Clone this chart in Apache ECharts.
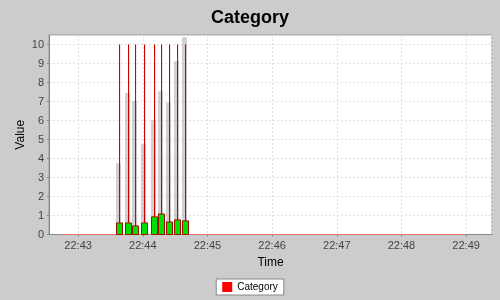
<!DOCTYPE html>
<html><head><meta charset="utf-8">
<script src="https://cdn.jsdelivr.net/npm/echarts@6/dist/echarts.min.js"></script>
<style>html,body{margin:0;padding:0;background:#cccccc;}#c{width:500px;height:300px;}</style>
</head><body><div id="c"></div>
<script>
const day = '2020-01-01T';
const times = ['22:43:38','22:43:46','22:43:53','22:44:01','22:44:10','22:44:17','22:44:24','22:44:32','22:44:39'];
const opens = [0,0,0,0,0,0,0,0,0];
const closes = [0.61,0.61,0.45,0.61,0.93,1.08,0.66,0.77,0.72];
const lows = [0,0,0,0,0,0,0,0,0];
const highs = [10,10,10,10,10,10,10,10,10];
const volumes = [3.75,7.45,7.03,4.75,6.02,7.54,6.95,9.13,10.38];
const zeroStart = '22:42:44', zeroEnd = '22:48:58';
const xMin = '22:42:33', xMax = '22:49:24';
const yMin = 0, yMax = 10.5;

const ms = s => Date.parse(day + s + 'Z');
const data = times.map((t,i) => [ms(t), opens[i], closes[i], lows[i], highs[i], volumes[i]]);

const chart = echarts.init(document.getElementById('c'), null, {renderer:'canvas'});
const fontFam = '"Liberation Sans", Arial, sans-serif';
chart.setOption({
  useUTC: true,
  backgroundColor: '#cccccc',
  animation: false,
  title: {text:'Category', left:'center', top:4, textStyle:{fontFamily:fontFam, fontSize:18, fontWeight:'bold', color:'#000'}},
  legend: {data:['Category'], top:279, left:'center', icon:'rect', itemWidth:10, itemHeight:10, itemGap:4,
    backgroundColor:'#fff', borderColor:'#888', borderWidth:1, padding:[3,6,3,6], borderRadius:0,
    textStyle:{fontFamily:fontFam, fontSize:10, color:'#000'}},
  grid: {left:49, right:8, top:35, bottom:65.5, show:true, backgroundColor:'#fff', borderColor:'#999', borderWidth:1},
  xAxis: {type:'time', min:ms(xMin), max:ms(xMax), minInterval:60000, maxInterval:60000,
    name:'Time', nameLocation:'middle', nameGap:22, nameMoveOverlap:false, nameTextStyle:{fontFamily:fontFam, fontSize:12, color:'#000'},
    axisLine:{lineStyle:{color:'#888'}}, axisTick:{show:true, length:2, lineStyle:{color:'#888'}},
    axisLabel:{fontFamily:fontFam, fontSize:11, color:'#444', margin:6, showMinLabel:false, showMaxLabel:false,
      formatter: v => { const d=new Date(v); return String(d.getUTCHours()).padStart(2,'0')+':'+String(d.getUTCMinutes()).padStart(2,'0'); }},
    splitLine:{show:true, lineStyle:{color:'#e0e0e0', type:[2,2]}}, minorTick:{show:false}},
  yAxis: {type:'value', min:yMin, max:yMax, interval:1,
    name:'Value', nameLocation:'middle', nameGap:22, nameMoveOverlap:false, nameTextStyle:{fontFamily:fontFam, fontSize:12, color:'#000'},
    axisLine:{show:true, lineStyle:{color:'#888'}}, axisTick:{show:true, length:2, lineStyle:{color:'#888'}},
    axisLabel:{fontFamily:fontFam, fontSize:11, color:'#444', margin:5},
    splitLine:{show:true, lineStyle:{color:'#e0e0e0', type:[2,2]}}},
  series: [
    {name:'Category', type:'line', data:[[ms(zeroStart),0],[ms(zeroEnd),0]], symbol:'none', silent:true,
      color:'#ff0000', lineStyle:{color:'#e07070', width:1}, z:3},
    {name:'Category', type:'custom', color:'#ff0000', z:4,
     renderItem: (params, api) => {
       const t = api.value(0);
       const p0 = api.coord([t, 0]);
       const x = Math.round(p0[0]) + 0.5;
       const yO = api.coord([t, api.value(1)])[1];
       const yC = api.coord([t, api.value(2)])[1];
       const yL = api.coord([t, api.value(3)])[1];
       const yH = api.coord([t, api.value(4)])[1];
       const yV = api.coord([t, api.value(5)])[1];
       const bw = 6, vw = 5;
       const top = Math.min(yO,yC), bot = Math.max(yO,yC);
       return {type:'group', children:[
         {type:'rect', shape:{x:x-vw/2-1, y:yV, width:vw, height:p0[1]-yV}, style:{fill:'rgba(140,140,140,0.4)'}},
         {type:'line', shape:{x1:x+0.4, y1:yH, x2:x+0.4, y2:top}, style:{stroke:'rgba(240,120,120,0.5)', lineWidth:1}},
         {type:'line', shape:{x1:x, y1:yH, x2:x, y2:top}, style:{stroke:'#d00000', lineWidth:1}},
         {type:'line', shape:{x1:x, y1:bot, x2:x, y2:yL}, style:{stroke:'#d00000', lineWidth:1}},
         {type:'rect', shape:{x:x-bw/2, y:top, width:bw, height:Math.max(bot-top,1)}, style:{fill:'#00e000', stroke:'#a01000', lineWidth:1}}
       ]};
     },
     encode:{x:0, y:[1,2,3,4]},
     data: data}
  ]
});
</script></body></html>
